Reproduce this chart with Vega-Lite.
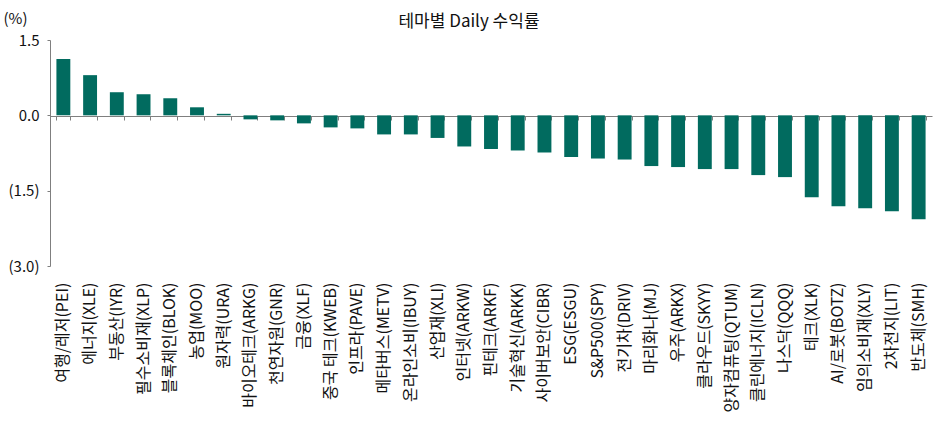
{
  "$schema": "https://vega.github.io/schema/vega-lite/v6.json",
  "width": 882,
  "height": 226,
  "autosize": "none",
  "padding": {"left": 50, "top": 40, "right": 2, "bottom": 155},
  "background": "white",
  "title": {
    "text": "테마별 Daily 수익률",
    "font": "Noto Sans CJK KR",
    "fontSize": 17,
    "fontWeight": "normal",
    "color": "#111111",
    "anchor": "middle",
    "frame": "group",
    "dx": -22,
    "offset": -20
  },
  "config": {
    "view": {"stroke": null},
    "font": "Noto Sans CJK KR"
  },
  "data": {
    "values": [
      {"theme": "여행/레저(PEI)", "ret": 1.12},
      {"theme": "에너지(XLE)", "ret": 0.80},
      {"theme": "부동산(IYR)", "ret": 0.46},
      {"theme": "필수소비재(XLP)", "ret": 0.42},
      {"theme": "블록체인(BLOK)", "ret": 0.34},
      {"theme": "농업(MOO)", "ret": 0.16},
      {"theme": "원자력(URA)", "ret": 0.03},
      {"theme": "바이오테크(ARKG)", "ret": -0.08},
      {"theme": "천연자원(GNR)", "ret": -0.10},
      {"theme": "금융(XLF)", "ret": -0.16},
      {"theme": "중국 테크(KWEB)", "ret": -0.24},
      {"theme": "인프라(PAVE)", "ret": -0.26},
      {"theme": "메타버스(METV)", "ret": -0.38},
      {"theme": "온라인소비(IBUY)", "ret": -0.38},
      {"theme": "산업재(XLI)", "ret": -0.45},
      {"theme": "인터넷(ARKW)", "ret": -0.62},
      {"theme": "핀테크(ARKF)", "ret": -0.67},
      {"theme": "기술혁신(ARKK)", "ret": -0.70},
      {"theme": "사이버보안(CIBR)", "ret": -0.74},
      {"theme": "ESG(ESGU)", "ret": -0.83},
      {"theme": "S&P500(SPY)", "ret": -0.86},
      {"theme": "전기차(DRIV)", "ret": -0.88},
      {"theme": "마리화나(MJ)", "ret": -1.01},
      {"theme": "우주(ARKX)", "ret": -1.03},
      {"theme": "클라우드(SKYY)", "ret": -1.07},
      {"theme": "양자컴퓨팅(QTUM)", "ret": -1.07},
      {"theme": "클린에너지(ICLN)", "ret": -1.19},
      {"theme": "나스닥(QQQ)", "ret": -1.23},
      {"theme": "테크(XLK)", "ret": -1.63},
      {"theme": "AI/로봇(BOTZ)", "ret": -1.81},
      {"theme": "임의소비재(XLY)", "ret": -1.85},
      {"theme": "2차전지(LIT)", "ret": -1.91},
      {"theme": "반도체(SMH)", "ret": -2.07}
    ]
  },
  "layer": [
    {
      "mark": {"type": "bar", "color": "#016b5f"},
      "encoding": {
        "x": {
          "field": "theme",
          "type": "nominal",
          "sort": null,
          "scale": {"paddingInner": 0.48, "paddingOuter": 0.24},
          "axis": {
            "orient": "bottom",
            "title": null,
            "domain": false,
            "ticks": false,
            "labelAngle": -90,
            "labelPadding": 16,
            "labelFont": "Noto Sans CJK KR",
            "labelFontSize": 16,
            "labelColor": "#111111",
            "labelLimit": 200
          }
        },
        "y": {
          "field": "ret",
          "type": "quantitative",
          "scale": {"domain": [-3, 1.5], "nice": false, "zero": false},
          "axis": {
            "values": [-3, -1.5, 0, 1.5],
            "labelExpr": "datum.value < 0 ? '(' + format(-datum.value, '.1f') + ')' : format(datum.value, '.1f')",
            "grid": false,
            "domainColor": "#7f7f7f",
            "tickColor": "#7f7f7f",
            "tickSize": 3,
            "labelPadding": 8,
            "labelFont": "Noto Sans CJK KR",
            "labelFontSize": 15,
            "labelColor": "#111111",
            "title": "(%)",
            "titleFont": "Noto Sans CJK KR",
            "titleFontSize": 15,
            "titleFontWeight": "normal",
            "titleColor": "#111111",
            "titleAngle": 0,
            "titleAlign": "left",
            "titleBaseline": "middle",
            "titleX": -47,
            "titleY": -22
          }
        }
      }
    },
    {
      "mark": {"type": "rule", "strokeOpacity": 0},
      "encoding": {
        "x": {
          "field": "theme",
          "type": "nominal",
          "sort": null,
          "axis": {
            "orient": "bottom",
            "offset": -150,
            "title": null,
            "labels": false,
            "domain": true,
            "domainColor": "#7f7f7f",
            "ticks": true,
            "tickBand": "extent",
            "tickColor": "#7f7f7f",
            "tickSize": 4
          }
        },
        "y": {"datum": 0},
        "y2": {"datum": 0}
      }
    }
  ],
  "resolve": {"axis": {"x": "independent"}}
}
